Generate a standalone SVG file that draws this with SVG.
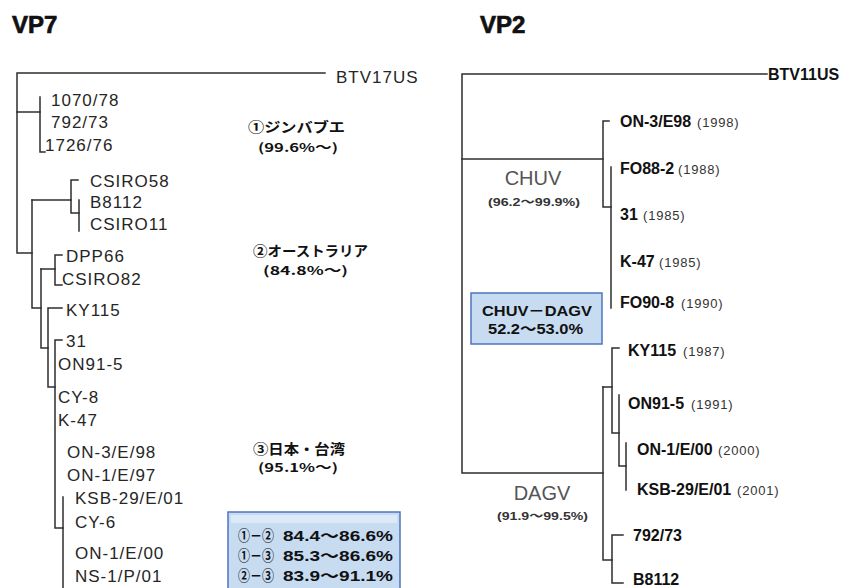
<svg xmlns="http://www.w3.org/2000/svg" width="843" height="588" viewBox="0 0 843 588">
<style>
.bg{fill:#ffffff}
.ln{fill:none;stroke:#2e2e2e;stroke-width:1.5;stroke-linecap:square}
.title{font-family:"Liberation Sans",Arial,sans-serif;font-weight:bold;font-size:24px;fill:#111;stroke:#111;stroke-width:0.7}
.lf{font-family:"Liberation Sans",Arial,sans-serif;font-size:17px;letter-spacing:1px;fill:#262626}
.rn{font-family:"Liberation Sans",Arial,sans-serif;font-weight:bold;font-size:16px;fill:#111}
.yr{font-family:"Liberation Sans",Arial,sans-serif;font-size:13px;letter-spacing:0.8px;fill:#333}
.jp{font-family:"Noto Sans CJK JP",sans-serif;font-weight:bold;font-size:14px;fill:#111}
.jps{font-family:"Noto Sans CJK JP",sans-serif;font-weight:bold;font-size:12px;fill:#111}
.grp{font-family:"Liberation Sans",Arial,sans-serif;font-size:20px;fill:#555}
.pct{font-family:"Liberation Sans","Noto Sans CJK JP",sans-serif;font-weight:bold;font-size:11px;fill:#333}
.box{fill:#c7dbf1;stroke:#4f74c0;stroke-width:1.5}
.band{fill:#dce9f7}
.bx{font-family:"Liberation Sans","Noto Sans CJK JP",sans-serif;font-weight:bold;font-size:15px;fill:#111}
</style>
<rect class="bg" x="0" y="0" width="843" height="588"/>

<g id="connectors">
  <!-- VP7 tree -->
  <path class="ln" d="M325 73 H17 V253 H32"/>
  <path class="ln" d="M17 112 H40"/>
  <path class="ln" d="M40 97 V152 H45"/>
  <path class="ln" d="M32 200 H71"/>
  <path class="ln" d="M78 180 H71 V213 H79"/>
  <path class="ln" d="M79 200 V231"/>
  <path class="ln" d="M32 200 V308 H41"/>
  <path class="ln" d="M41 269 V348 H48"/>
  <path class="ln" d="M41 269 H55"/>
  <path class="ln" d="M62 255 H55 V285 H62"/>
  <path class="ln" d="M62 308 H48 V387 H55"/>
  <path class="ln" d="M62 340 H55 V528 H63"/>
  <path class="ln" d="M63 497 V588"/>
  <!-- VP2 tree -->
  <path class="ln" d="M767 74 H462 V473 H603"/>
  <path class="ln" d="M462 159 H603"/>
  <path class="ln" d="M609 121 H603 V207 H611"/>
  <path class="ln" d="M611 167 V308"/>
  <path class="ln" d="M603 387 V560 H612"/>
  <path class="ln" d="M603 387 H612"/>
  <path class="ln" d="M619 348 H612 V433 H619"/>
  <path class="ln" d="M619 395 V466 H626"/>
  <path class="ln" d="M626 443 V490"/>
  <path class="ln" d="M623 535 H612 V583 H623"/>
</g>

<g id="titles">
  <text class="title" x="12" y="33">VP7</text>
  <text class="title" x="480" y="33">VP2</text>
</g>

<g id="vp7-leaves">
  <g id="n-BTV17US"><text class="lf" x="336" y="83">BTV17US</text></g>
  <g id="n-1070-78"><text class="lf" x="51" y="106">1070/78</text></g>
  <g id="n-792-73"><text class="lf" x="51" y="128">792/73</text></g>
  <g id="n-1726-76"><text class="lf" x="45" y="151">1726/76</text></g>
  <g id="n-CSIRO58"><text class="lf" x="90" y="187">CSIRO58</text></g>
  <g id="n-B8112"><text class="lf" x="90" y="208">B8112</text></g>
  <g id="n-CSIRO11"><text class="lf" x="90" y="230">CSIRO11</text></g>
  <g id="n-DPP66"><text class="lf" x="66" y="262">DPP66</text></g>
  <g id="n-CSIRO82"><text class="lf" x="62" y="285">CSIRO82</text></g>
  <g id="n-KY115"><text class="lf" x="66" y="316">KY115</text></g>
  <g id="n-31"><text class="lf" x="66" y="347">31</text></g>
  <g id="n-ON91-5"><text class="lf" x="58" y="370">ON91-5</text></g>
  <g id="n-CY-8"><text class="lf" x="58" y="403">CY-8</text></g>
  <g id="n-K-47"><text class="lf" x="58" y="426">K-47</text></g>
  <g id="n-ON-3-E-98"><text class="lf" x="67" y="458">ON-3/E/98</text></g>
  <g id="n-ON-1-E-97"><text class="lf" x="67" y="481">ON-1/E/97</text></g>
  <g id="n-KSB-29-E-01"><text class="lf" x="75" y="504">KSB-29/E/01</text></g>
  <g id="n-CY-6"><text class="lf" x="75" y="528">CY-6</text></g>
  <g id="n-ON-1-E-00"><text class="lf" x="75" y="559">ON-1/E/00</text></g>
  <g id="n-NS-1-P-01"><text class="lf" x="75" y="582">NS-1/P/01</text></g>
</g>

<g id="vp7-groups">
  <g id="g-zimbabwe">
    <text class="jp" x="248" y="132" textLength="97" lengthAdjust="spacingAndGlyphs">①ジンバブエ</text>
    <text class="jps" x="258" y="152" textLength="80" lengthAdjust="spacingAndGlyphs">(99.6%〜)</text>
  </g>
  <g id="g-australia">
    <text class="jp" x="253" y="256" textLength="115" lengthAdjust="spacingAndGlyphs">②オーストラリア</text>
    <text class="jps" x="263" y="275" textLength="85" lengthAdjust="spacingAndGlyphs">(84.8%〜)</text>
  </g>
  <g id="g-japan">
    <text class="jp" x="253" y="454" textLength="92" lengthAdjust="spacingAndGlyphs">③日本・台湾</text>
    <text class="jps" x="258" y="472" textLength="80" lengthAdjust="spacingAndGlyphs">(95.1%〜)</text>
  </g>
  <g id="box-vp7">
    <rect class="box" x="228" y="512" width="172" height="84"/>
    <rect class="band" x="231" y="515" width="166" height="8"/>
    <text class="bx" x="238" y="541" textLength="36" lengthAdjust="spacingAndGlyphs">①－②</text>
    <text class="bx" x="283" y="541" textLength="110" lengthAdjust="spacingAndGlyphs">84.4〜86.6%</text>
    <text class="bx" x="238" y="561" textLength="36" lengthAdjust="spacingAndGlyphs">①－③</text>
    <text class="bx" x="283" y="561" textLength="110" lengthAdjust="spacingAndGlyphs">85.3〜86.6%</text>
    <text class="bx" x="238" y="581" textLength="36" lengthAdjust="spacingAndGlyphs">②－③</text>
    <text class="bx" x="283" y="581" textLength="110" lengthAdjust="spacingAndGlyphs">83.9〜91.1%</text>
  </g>
</g>

<g id="vp2-leaves">
  <g id="m-BTV11US"><text class="rn" x="768" y="80">BTV11US</text></g>
  <g id="m-ON-3-E98"><text class="rn" x="620" y="127">ON-3/E98</text><text class="yr" x="697" y="127">(1998)</text></g>
  <g id="m-FO88-2"><text class="rn" x="620" y="174">FO88-2</text><text class="yr" x="678" y="174">(1988)</text></g>
  <g id="m-31"><text class="rn" x="620" y="220">31</text><text class="yr" x="643" y="220">(1985)</text></g>
  <g id="m-K-47"><text class="rn" x="620" y="267">K-47</text><text class="yr" x="659" y="267">(1985)</text></g>
  <g id="m-FO90-8"><text class="rn" x="620" y="308">FO90-8</text><text class="yr" x="681" y="308">(1990)</text></g>
  <g id="m-KY115"><text class="rn" x="628" y="356">KY115</text><text class="yr" x="683" y="356">(1987)</text></g>
  <g id="m-ON91-5"><text class="rn" x="628" y="409">ON91-5</text><text class="yr" x="691" y="409">(1991)</text></g>
  <g id="m-ON-1-E-00"><text class="rn" x="637" y="455">ON-1/E/00</text><text class="yr" x="718" y="455">(2000)</text></g>
  <g id="m-KSB-29-E-01"><text class="rn" x="637" y="495">KSB-29/E/01</text><text class="yr" x="737" y="495">(2001)</text></g>
  <g id="m-792-73"><text class="rn" x="633" y="541">792/73</text></g>
  <g id="m-B8112"><text class="rn" x="633" y="585">B8112</text></g>
</g>

<g id="vp2-groups">
  <g id="g-CHUV">
    <text class="grp" x="533" y="185" text-anchor="middle">CHUV</text>
    <text class="pct" x="488" y="206" textLength="92" lengthAdjust="spacingAndGlyphs">(96.2〜99.9%)</text>
  </g>
  <g id="g-DAGV">
    <text class="grp" x="542" y="500" text-anchor="middle">DAGV</text>
    <text class="pct" x="497" y="520" textLength="91" lengthAdjust="spacingAndGlyphs">(91.9〜99.5%)</text>
  </g>
  <g id="box-vp2">
    <rect class="box" x="471" y="293" width="131" height="51"/>
    <text class="bx" x="482" y="316" textLength="110" lengthAdjust="spacingAndGlyphs">CHUV－DAGV</text>
    <text class="bx" x="488" y="334" textLength="95" lengthAdjust="spacingAndGlyphs">52.2〜53.0%</text>
  </g>
</g>
</svg>
